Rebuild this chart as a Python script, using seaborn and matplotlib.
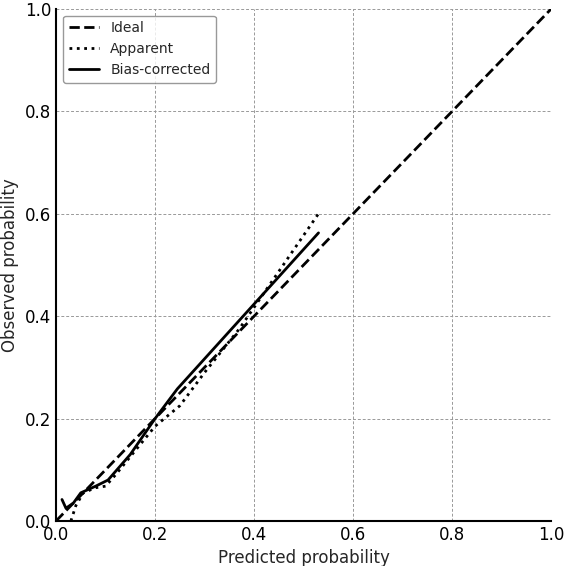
import numpy as np
import pandas as pd
import matplotlib
matplotlib.use("Agg")
import matplotlib.pyplot as plt
import seaborn as sns

# Ideal line
ideal_x = [0.0, 1.0]
ideal_y = [0.0, 1.0]

# Apparent calibration curve
apparent_x = [0.03, 0.04, 0.055, 0.08, 0.10, 0.12, 0.20, 0.25, 0.30, 0.37, 0.53]
apparent_y = [0.0, 0.03, 0.055, 0.065, 0.068, 0.09, 0.185, 0.225, 0.29, 0.375, 0.60]

# Bias-corrected calibration curve
corrected_x = [0.012, 0.02, 0.035, 0.05, 0.08, 0.105, 0.15, 0.20, 0.245, 0.53]
corrected_y = [0.042, 0.025, 0.035, 0.055, 0.068, 0.08, 0.13, 0.20, 0.258, 0.5625]

sns.set_style("white")
plt.rcParams['font.family'] = ['DejaVu Sans']

fig = plt.figure(figsize=(5.66, 5.66), dpi=100)
ax = fig.add_axes([0.099, 0.0795, 0.875, 0.905])

sns.lineplot(x=ideal_x, y=ideal_y, ax=ax, color="black", lw=2, linestyle="--",
             label="Ideal", sort=False, estimator=None)
sns.lineplot(x=apparent_x, y=apparent_y, ax=ax, color="black", lw=2, linestyle=":",
             label="Apparent", sort=False, estimator=None)
sns.lineplot(x=corrected_x, y=corrected_y, ax=ax, color="black", lw=2, linestyle="-",
             label="Bias-corrected", sort=False, estimator=None)

ax.set_xlim(0, 1)
ax.set_ylim(0, 1)
ticks = [0.0, 0.2, 0.4, 0.6, 0.8, 1.0]
ax.set_xticks(ticks)
ax.set_yticks(ticks)
ax.set_xticklabels([f"{t:.1f}" for t in ticks])
ax.set_yticklabels([f"{t:.1f}" for t in ticks])
ax.tick_params(direction="in", length=6, width=1.2, labelsize=12, colors="black")
ax.grid(True, color="#999999", linestyle=(0, (3, 2)), linewidth=0.7)
ax.set_axisbelow(True)

for side in ["top", "right"]:
    ax.spines[side].set_visible(False)
for side in ["left", "bottom"]:
    ax.spines[side].set_color("black")
    ax.spines[side].set_linewidth(1.5)

ax.set_xlabel("Predicted probability", fontsize=12)
ax.set_ylabel("Observed probability", fontsize=12)

leg = ax.legend(loc="upper left", fontsize=10, frameon=True, fancybox=True,
                edgecolor="gray", handlelength=2.2)
leg.get_frame().set_linewidth(1.0)

fig.savefig("out.png", dpi=100)
